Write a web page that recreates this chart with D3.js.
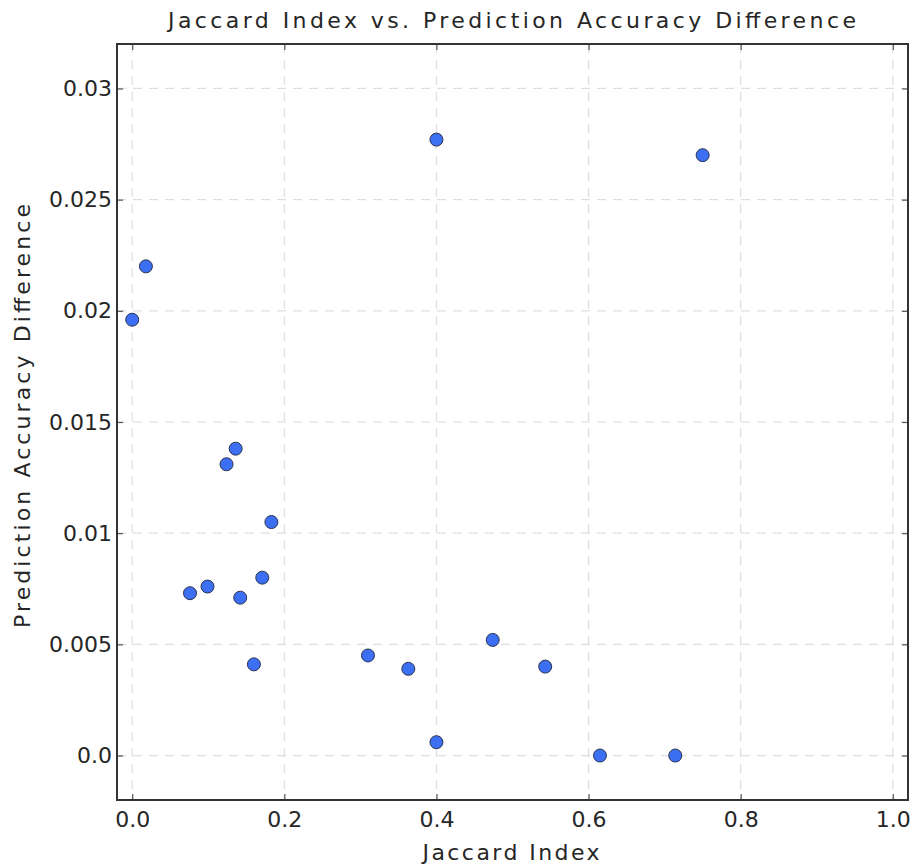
<!DOCTYPE html>
<meta charset="utf-8">
<style>
body { margin: 0; background: #fff; }
text { font-family: "DejaVu Sans", Verdana, sans-serif; fill: #262626; }
</style>
<svg width="914" height="865"></svg>
<script src="https://d3js.org/d3.v7.min.js"></script>
<script>

// Jaccard index per pair, and the matching accuracy difference
var jaccard = [0.0, 0.018, 0.076, 0.099, 0.124, 0.136, 0.142, 0.160, 0.171, 0.183,
               0.310, 0.363, 0.400, 0.400, 0.474, 0.543, 0.615, 0.714, 0.750]
var accDiff = [0.0196, 0.0220, 0.0073, 0.0076, 0.0131, 0.0138, 0.0071, 0.0041, 0.0080, 0.0105,
               0.0045, 0.0039, 0.0277, 0.0006, 0.0052, 0.0040, 0.0, 0.0, 0.0270]

var xTicks = [0, 0.2, 0.4, 0.6, 0.8, 1.0]
var xTickLabels = ['0.0', '0.2', '0.4', '0.6', '0.8', '1.0']
var yTicks = [0, 0.005, 0.01, 0.015, 0.02, 0.025, 0.03]
var yTickLabels = ['0.0', '0.005', '0.01', '0.015', '0.02', '0.025', '0.03']

var dataset = jaccard.map(function(x, i) { return [x, accDiff[i]] })

var svg = d3.select("svg")
var pLeft = 117, pRight = 908, pTop = 44, pBottom = 800

var xScale = d3.scaleLinear().domain([-0.02, 1.02]).range([pLeft, pRight])
var yScale = d3.scaleLinear().domain([-0.002, 0.032]).range([pBottom, pTop])

// grid
svg.append("g").selectAll("line")
  .data(xTicks).enter().append("line")
  .attr("x1", d => xScale(d)).attr("x2", d => xScale(d))
  .attr("y1", pTop).attr("y2", pBottom)
  .attr("stroke", "#dedede").attr("stroke-width", 1.2)
  .attr("stroke-dasharray", "9,7")

svg.append("g").selectAll("line")
  .data(yTicks).enter().append("line")
  .attr("y1", d => yScale(d)).attr("y2", d => yScale(d))
  .attr("x1", pLeft).attr("x2", pRight)
  .attr("stroke", "#dedede").attr("stroke-width", 1.2)
  .attr("stroke-dasharray", "9,7")

// axes, ticks pointing inward on all four sides
var fmtX = (d, i) => xTickLabels[i]
var fmtY = (d, i) => yTickLabels[i]

svg.append("g").attr("transform", "translate(0," + pBottom + ")")
  .call(d3.axisBottom(xScale).tickValues(xTicks).tickFormat(fmtX).tickSizeInner(-6).tickSizeOuter(0).tickPadding(11))
svg.append("g").attr("transform", "translate(0," + pTop + ")")
  .call(d3.axisTop(xScale).tickValues(xTicks).tickFormat("").tickSizeInner(-6).tickSizeOuter(0))
svg.append("g").attr("transform", "translate(" + pLeft + ",0)")
  .call(d3.axisLeft(yScale).tickValues(yTicks).tickFormat(fmtY).tickSizeInner(-6).tickSizeOuter(0).tickPadding(5))
svg.append("g").attr("transform", "translate(" + pRight + ",0)")
  .call(d3.axisRight(yScale).tickValues(yTicks).tickFormat("").tickSizeInner(-6).tickSizeOuter(0))

svg.selectAll(".domain").remove()
svg.selectAll(".tick line").attr("stroke", "#555").attr("stroke-width", 1.2)
svg.selectAll(".tick text")
  .style("font-family", '"DejaVu Sans", Verdana, sans-serif')
  .style("font-size", "22px")
  .attr("fill", "#262626")

// frame
svg.append("rect")
  .attr("x", pLeft).attr("y", pTop)
  .attr("width", pRight - pLeft).attr("height", pBottom - pTop)
  .attr("fill", "none").attr("stroke", "#333").attr("stroke-width", 2)

// points
svg.append("g").selectAll("circle")
  .data(dataset).enter().append("circle")
  .attr("cx", d => xScale(d[0]))
  .attr("cy", d => yScale(d[1]))
  .attr("r", 6.5)
  .attr("fill", "#3d6ff3")
  .attr("stroke", "#2b3550")
  .attr("stroke-width", 1)

// title and labels
svg.append("text")
  .attr("x", 512).attr("y", 28)
  .attr("text-anchor", "middle")
  .style("font-size", "22px")
  .attr("textLength", 688).attr("lengthAdjust", "spacing")
  .text("Jaccard Index vs. Prediction Accuracy Difference")

svg.append("text")
  .attr("x", 511).attr("y", 860)
  .attr("text-anchor", "middle")
  .style("font-size", "22px")
  .attr("textLength", 177).attr("lengthAdjust", "spacing")
  .text("Jaccard Index")

svg.append("text")
  .attr("transform", "translate(30,416)rotate(-90)")
  .attr("text-anchor", "middle")
  .style("font-size", "22px")
  .attr("textLength", 424).attr("lengthAdjust", "spacing")
  .text("Prediction Accuracy Difference")

</script>
